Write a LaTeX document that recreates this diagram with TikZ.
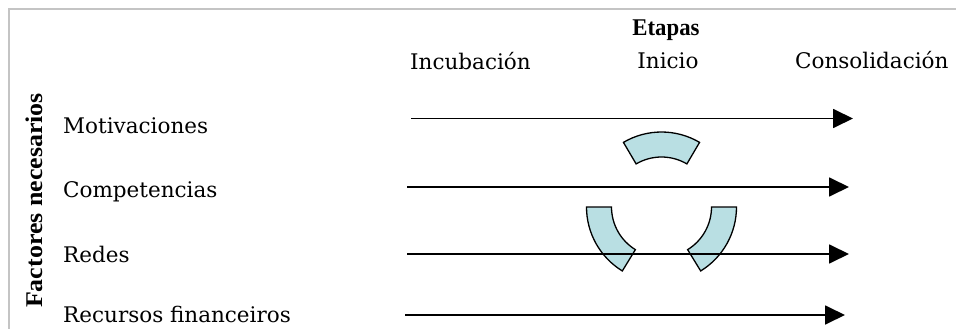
\documentclass[tikz,border=0pt]{standalone}
\usepackage{fontspec}
\setmainfont{DejaVu Serif}
\newfontfamily\boldfam{Liberation Serif}
\usetikzlibrary{arrows.meta}
\definecolor{ringfill}{HTML}{B9DFE3}
\definecolor{framegray}{HTML}{C4C4C4}
\tikzset{
  lbl/.style={inner sep=0pt, font=\fontsize{21.5}{24}\selectfont},
  hdr/.style={inner sep=0pt, font=\boldfam\bfseries\fontsize{24}{27}\selectfont},
  flow/.style={line width=1.8pt, -{Triangle[length=20pt,width=19pt]}},
  ringpiece/.style={fill=ringfill, draw=black, line width=1.3pt, line join=miter},
}
\begin{document}
\begin{tikzpicture}[x=1pt,y=-1pt]
\useasboundingbox (0,0) rectangle (956,329);
\fill[white] (0,0) rectangle (956,329);
% frame
\draw[framegray, line width=2pt] (8.5,329) -- (8.5,9.5) -- (956,9.5);
% headers
\node[hdr, anchor=base] (etapas) at (666,35.5) {\scalebox{0.95}[1]{Etapas}};
\node[lbl, anchor=base west] (incub) at (410,70) {Incubación};
\node[lbl, anchor=base] (inicio) at (668,69) {Inicio};
\node[lbl, anchor=base west] (consol) at (795,69) {Consolidación};
% row labels
\node[lbl, anchor=base west] (motiv) at (63,133) {Motivaciones};
\node[lbl, anchor=base west] (compet) at (63,197) {Competencias};
\node[lbl, anchor=base west] (redes) at (63,262) {Redes};
\node[lbl, anchor=base west] (recur) at (63,322) {Recursos financeiros};
\node[hdr, anchor=base, rotate=90] (factores) at (42,200.5) {\scalebox{1.08}[1]{Factores necesarios}};
% ring pieces
\coordinate (c) at (661.5,207);
\begin{scope}[shift={(c)}, x=1pt, y=1pt]
  \draw[ringpiece] (59.5:75) arc[start angle=59.5, end angle=120.5, radius=75]
     -- (120.5:50) arc[start angle=120.5, end angle=59.5, radius=50] -- cycle;
  \draw[ringpiece] (180:75) arc[start angle=180, end angle=238.5, radius=75]
     -- (238.5:50) arc[start angle=238.5, end angle=180, radius=50] -- cycle;
  \draw[ringpiece] (-58.5:75) arc[start angle=-58.5, end angle=0, radius=75]
     -- (0:50) arc[start angle=0, end angle=-58.5, radius=50] -- cycle;
\end{scope}
% arrows
\coordinate (m0) at (411,118.5); \coordinate (m1) at (853,118.5);
\coordinate (c0) at (407,187);   \coordinate (c1) at (849,187);
\coordinate (r0) at (407,254);   \coordinate (r1) at (849,254);
\coordinate (f0) at (405,315);   \coordinate (f1) at (845,315);
\draw[flow] (m0) -- (m1);
\draw[flow] (c0) -- (c1);
\draw[flow] (r0) -- (r1);
\draw[flow] (f0) -- (f1);
\end{tikzpicture}
\end{document}
